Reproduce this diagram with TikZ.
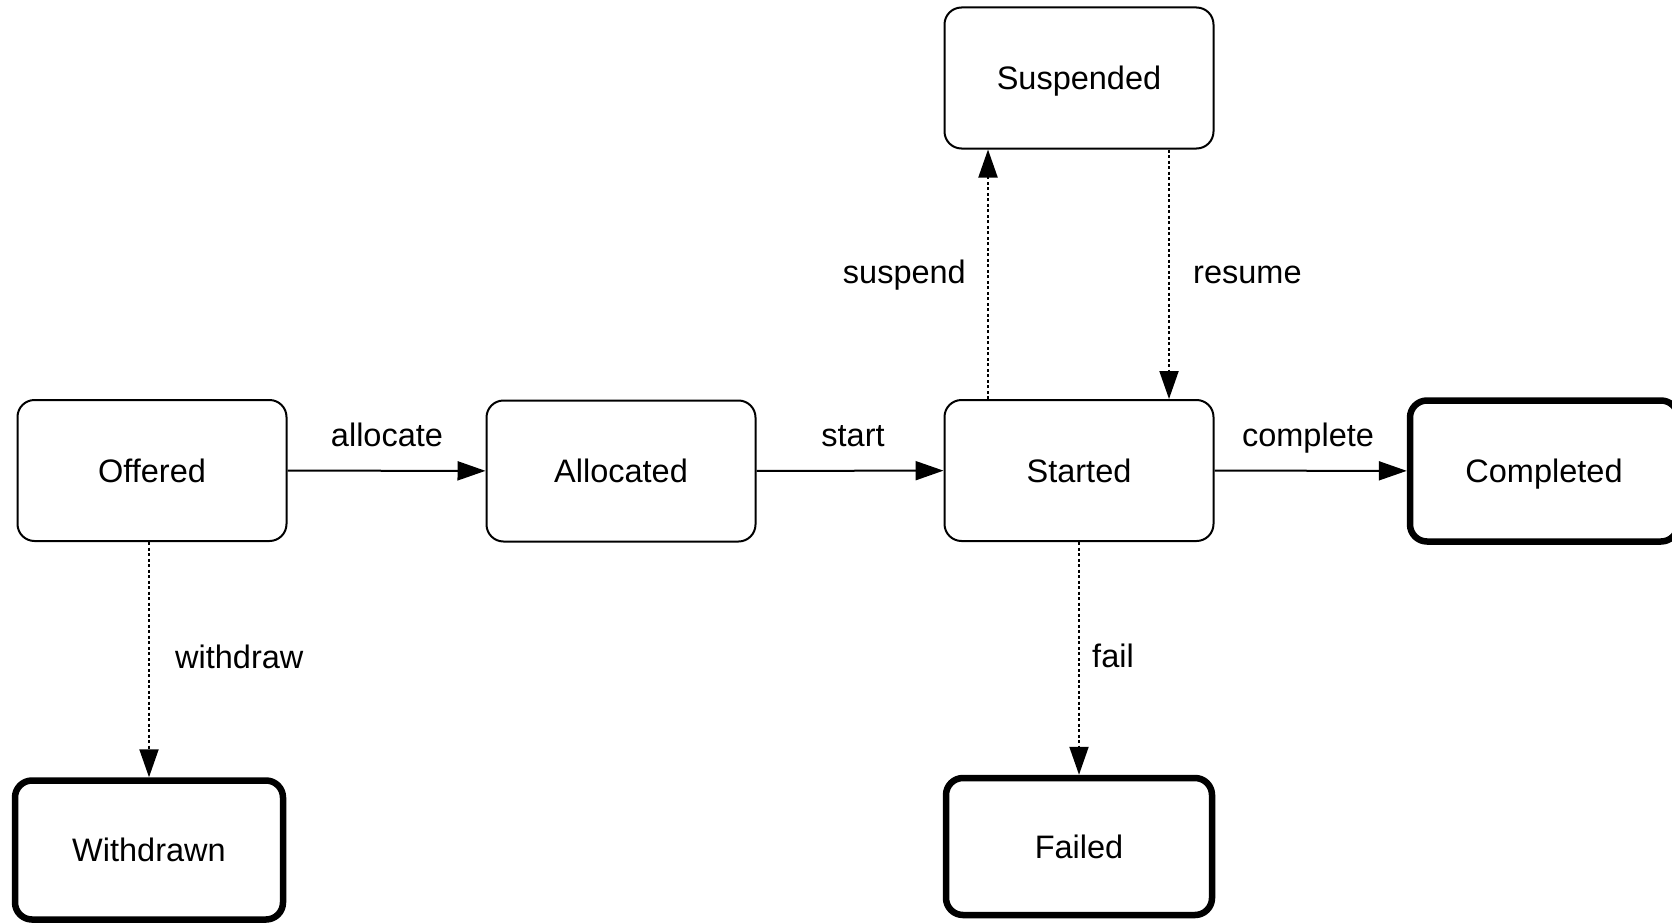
\documentclass[tikz,border=0pt]{standalone}
\usepackage{fontspec}
\setmainfont{Liberation Sans}
\usetikzlibrary{arrows.meta}
\begin{document}
\begin{tikzpicture}[x=1pt,y=-1pt,
  font=\fontsize{32.5}{39}\selectfont,
  state/.style={draw, line width=2pt, rounded corners=17pt, minimum width=269pt, minimum height=141pt, text height=23.5pt, text depth=0pt, inner sep=0pt},
  final/.style={state, line width=6.5pt, minimum width=268pt, minimum height=139pt},
  solidarr/.style={line width=2pt, -{Triangle[length=28pt,width=19pt]}},
  dotarr/.style={line width=2pt, dash pattern=on 3pt off 2.5pt, -{Triangle[length=28pt,width=19pt]}},
  lbl/.style={inner sep=0pt}]
\useasboundingbox (0,0) rectangle (1672,923);
\node[state] (off) at (152,470.5) {Offered};
\node[state] (al) at (621,471) {Allocated};
\node[state] (st) at (1079,470.5) {Started};
\node[state] (sus) at (1079,78) {Suspended};
\node[final, minimum height=141pt] (comp) at (1544,471) {Completed};
\node[final] (wd) at (149,850) {Withdrawn};
\node[final, minimum width=266pt, minimum height=137pt] (fail) at (1079,846.5) {Failed};

\draw[solidarr] (off) -- (al);
\draw[solidarr] (al) -- (st);
\draw[solidarr] (st) -- (comp);
\draw[dotarr] (off.south -| wd.north) -- (wd.north);
\draw[dotarr] (st.south) -- (fail.north);
\draw[dotarr] ([xshift=-91pt]st.north) -- ([xshift=-91pt]sus.south);
\draw[dotarr] ([xshift=90pt]sus.south) -- ([xshift=90pt]st.north);

\node[lbl, anchor=base] (lal) at (387,446) {allocate};
\node[lbl, anchor=base] (lst) at (853,446) {start};
\node[lbl, anchor=base] (lcomp) at (1308,446) {complete};
\node[lbl, anchor=base east] (lsus) at (966,283) {suspend};
\node[lbl, anchor=base west] (lres) at (1193,283) {resume};
\node[lbl, anchor=base west] (lwd) at (175,668) {withdraw};
\node[lbl, anchor=base west] (lfail) at (1092,667) {fail};
\end{tikzpicture}
\end{document}
